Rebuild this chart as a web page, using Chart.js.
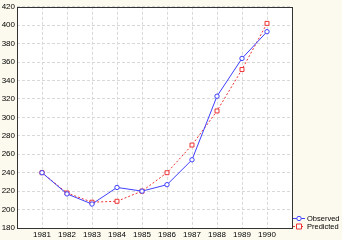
<!DOCTYPE html>
<html>
<head>
<meta charset="utf-8">
<script src="https://cdn.jsdelivr.net/npm/chart.js@4"></script>
<style>
  html, body { margin: 0; padding: 0; background: #fcfaee; }
  #wrap { width: 342px; height: 240px; }
</style>
</head>
<body>
<div id="wrap"><canvas id="c" width="342" height="240"></canvas></div>
<script>
const years = [1981, 1982, 1983, 1984, 1985, 1986, 1987, 1988, 1989, 1990];
const observed = [240, 217, 206, 224, 220, 227, 254, 323, 364, 393];
const predicted = [240, 218, 208, 209, 220, 240, 270, 307, 352, 402];
const yTicks = [180, 200, 220, 240, 260, 280, 300, 320, 340, 360, 380, 400, 420];

const toPts = vals => years.map((yr, i) => ({ x: yr, y: vals[i] }));

// white plot area + frame
const frame = {
  id: 'frame',
  beforeDraw(chart) {
    const { ctx, chartArea: a } = chart;
    ctx.save();
    ctx.fillStyle = '#fff';
    ctx.fillRect(a.left, a.top, a.right - a.left, a.bottom - a.top);
    ctx.restore();
  },
  afterDatasetsDraw(chart) {
    const { ctx, chartArea: a } = chart;
    ctx.save();
    ctx.strokeStyle = '#333';
    ctx.lineWidth = 1;
    ctx.strokeRect(Math.round(a.left) + 0.5, Math.round(a.top) + 0.5,
      Math.round(a.right - a.left), Math.round(a.bottom - a.top));
    ctx.restore();
  }
};

// small legend in the lower right corner
const sideLegend = {
  id: 'sideLegend',
  afterDraw(chart) {
    const { ctx } = chart;
    ctx.save();
    ctx.font = '7.5px Arial, "Liberation Sans", sans-serif';
    ctx.textBaseline = 'middle';
    chart.data.datasets.forEach((ds, i) => {
      const y = 218 + i * 8;
      ctx.strokeStyle = ds.borderColor;
      ctx.lineWidth = 1;
      ctx.setLineDash(ds.borderDash || []);
      ctx.beginPath();
      ctx.moveTo(293, y + 0.5);
      ctx.lineTo(305, y + 0.5);
      ctx.stroke();
      ctx.setLineDash([]);
      ctx.fillStyle = '#fff';
      ctx.beginPath();
      if (ds.pointStyle === 'rect') {
        ctx.rect(296.5, y - 2, 5, 5);
      } else {
        ctx.arc(299, y + 0.5, 2.2, 0, Math.PI * 2);
      }
      ctx.fill();
      ctx.stroke();
      ctx.fillStyle = '#000';
      ctx.fillText(ds.label, 307, y + 1);
    });
    ctx.restore();
  }
};

new Chart(document.getElementById('c'), {
  type: 'line',
  data: {
    datasets: [{
      label: 'Observed',
      data: toPts(observed),
      borderColor: '#4040ff',
      backgroundColor: '#fff',
      borderWidth: 1,
      pointStyle: 'circle',
      pointRadius: 2.2,
      pointBorderWidth: 1,
      tension: 0
    }, {
      label: 'Predicted',
      data: toPts(predicted),
      borderColor: '#ee3333',
      backgroundColor: '#fff',
      borderWidth: 1,
      borderDash: [2, 2],
      pointStyle: 'rect',
      pointRadius: 2.8,
      pointBorderWidth: 1,
      tension: 0
    }]
  },
  options: {
    responsive: false,
    animation: false,
    layout: { padding: { top: 3, right: 50, left: 0, bottom: 0 } },
    plugins: { legend: { display: false }, tooltip: { enabled: false } },
    scales: {
      x: {
        type: 'linear',
        min: 1980,
        max: 1991,
        afterFit(scale) { scale.height = 12; },
        afterBuildTicks(scale) { scale.ticks = years.map(v => ({ value: v })); },
        ticks: {
          padding: 2,
          color: '#000',
          font: { size: 8, family: 'Arial, "Liberation Sans", sans-serif' },
          callback: v => String(v)
        },
        grid: { color: '#d8d8d8', drawTicks: false },
        border: { display: false, dash: [3, 2] }
      },
      y: {
        min: 180,
        max: 420,
        afterFit(scale) { scale.width = 17; },
        afterBuildTicks(scale) { scale.ticks = yTicks.map(v => ({ value: v })); },
        ticks: {
          padding: 2,
          color: '#000',
          font: { size: 8, family: 'Arial, "Liberation Sans", sans-serif' }
        },
        grid: { color: '#d8d8d8', drawTicks: false },
        border: { display: false, dash: [3, 2] }
      }
    }
  },
  plugins: [frame, sideLegend]
});
</script>
</body>
</html>
